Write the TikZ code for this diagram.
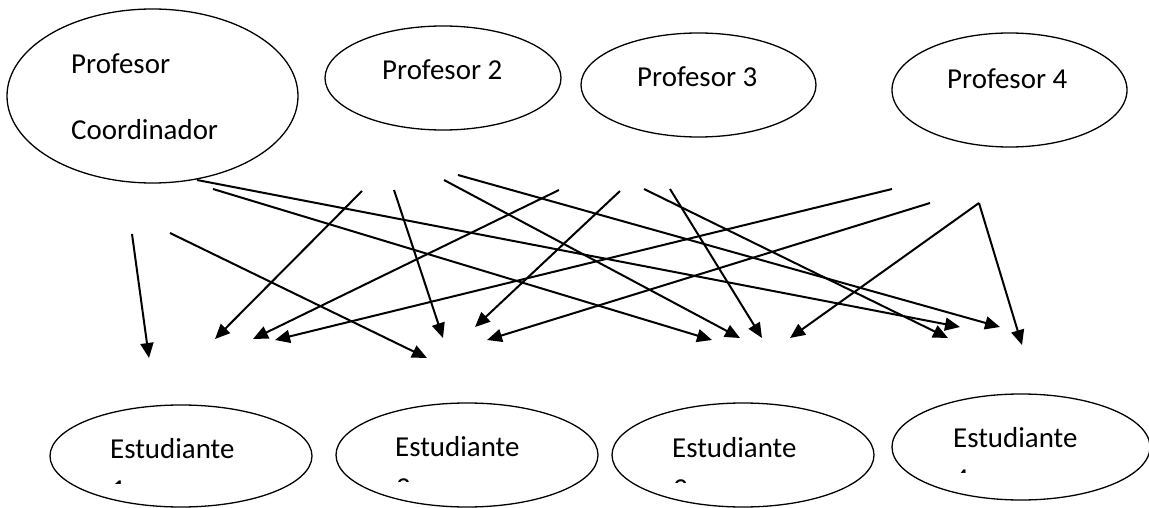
\documentclass[tikz,border=0pt]{standalone}
\usepackage{fontspec}
\setmainfont{Carlito}
\usetikzlibrary{shapes.geometric,arrows.meta}
\tikzset{
  oval/.style={draw=black, line width=1.3pt, ellipse, inner sep=0pt},
  txt/.style={inner sep=0pt, anchor=base west, font=\fontsize{28.9}{35}\selectfont},
  conn/.style={line width=2pt, -{Triangle[length=15pt,width=13pt]}},
}
\begin{document}
\begin{tikzpicture}[x=1pt,y=-1pt]
\clip (0,0) rectangle (1149,508);
\fill[white] (0,0) rectangle (1149,508);
% top ellipses
\node[oval, minimum width=291pt, minimum height=174pt] (p1) at (152.5,96) {};
\node[oval, minimum width=236pt, minimum height=104pt] (p2) at (443,78) {};
\node[oval, minimum width=235pt, minimum height=104pt] (p3) at (698.5,85) {};
\node[oval, minimum width=235pt, minimum height=114pt] (p4) at (1009.5,90) {};
\node[txt] (p1a) at (71,74) {Profesor};
\node[txt] (p1b) at (71,140) {Coordinador};
\node[txt] (p2t) at (382,80) {Profesor 2};
\node[txt] (p3t) at (637,87) {Profesor 3};
\node[txt] (p4t) at (947,89) {Profesor 4};
% bottom ellipses
\node[oval, minimum width=262pt, minimum height=102pt] (e1) at (181,456) {};
\node[oval, minimum width=262pt, minimum height=104pt] (e2) at (467,455) {};
\node[oval, minimum width=262pt, minimum height=104pt] (e3) at (743,455) {};
\node[oval, minimum width=258pt, minimum height=106pt] (e4) at (1021,447) {};
\node[txt] (e1t) at (110,458) {Estudiante};
\node[txt] (e2t) at (395,456) {Estudiante};
\node[txt] (e3t) at (672,457) {Estudiante};
\node[txt] (e4t) at (953,447) {Estudiante};
\begin{scope}
\clip (100,463) rectangle (160,483);
\node[txt] (e1d) at (111,499) {1};
\end{scope}
\begin{scope}
\clip (385,461) rectangle (445,481);
\node[txt] (e2d) at (396,497) {2};
\end{scope}
\begin{scope}
\clip (662,462) rectangle (722,482);
\node[txt] (e3d) at (673,498) {3};
\end{scope}
\begin{scope}
\clip (943,452) rectangle (1003,472);
\node[txt] (e4d) at (954,488) {4};
\end{scope}
% arrow ends
\coordinate (s1) at (132,234);  \coordinate (t1) at (149,358);
\coordinate (s2) at (170,233);  \coordinate (t2) at (427,358);
\coordinate (s3) at (197,180);  \coordinate (t3) at (960,327);
\coordinate (s4) at (213,189);  \coordinate (t4) at (712,340);
\coordinate (s5) at (362,191);  \coordinate (t5) at (215,339);
\coordinate (s6) at (394,190);  \coordinate (t6) at (443,338);
\coordinate (s7) at (444,180);  \coordinate (t7) at (740,338);
\coordinate (s8) at (458,175);  \coordinate (t8) at (1000,327);
\coordinate (s9) at (559,190);  \coordinate (t9) at (253,339);
\coordinate (s10) at (620,191); \coordinate (t10) at (475,327);
\coordinate (s11) at (644,189); \coordinate (t11) at (948,338);
\coordinate (s12) at (670,189); \coordinate (t12) at (762,338);
\coordinate (s13) at (892,189); \coordinate (t13) at (275,340);
\coordinate (s14) at (930,203); \coordinate (t14) at (487,340);
\coordinate (s15) at (979,203); \coordinate (t15) at (790,338);
\coordinate (t16) at (1022,345);
\foreach \i in {1,...,15} { \draw[conn] (s\i) -- (t\i); }
\draw[conn] (s15) -- (t16);
\end{tikzpicture}
\end{document}
